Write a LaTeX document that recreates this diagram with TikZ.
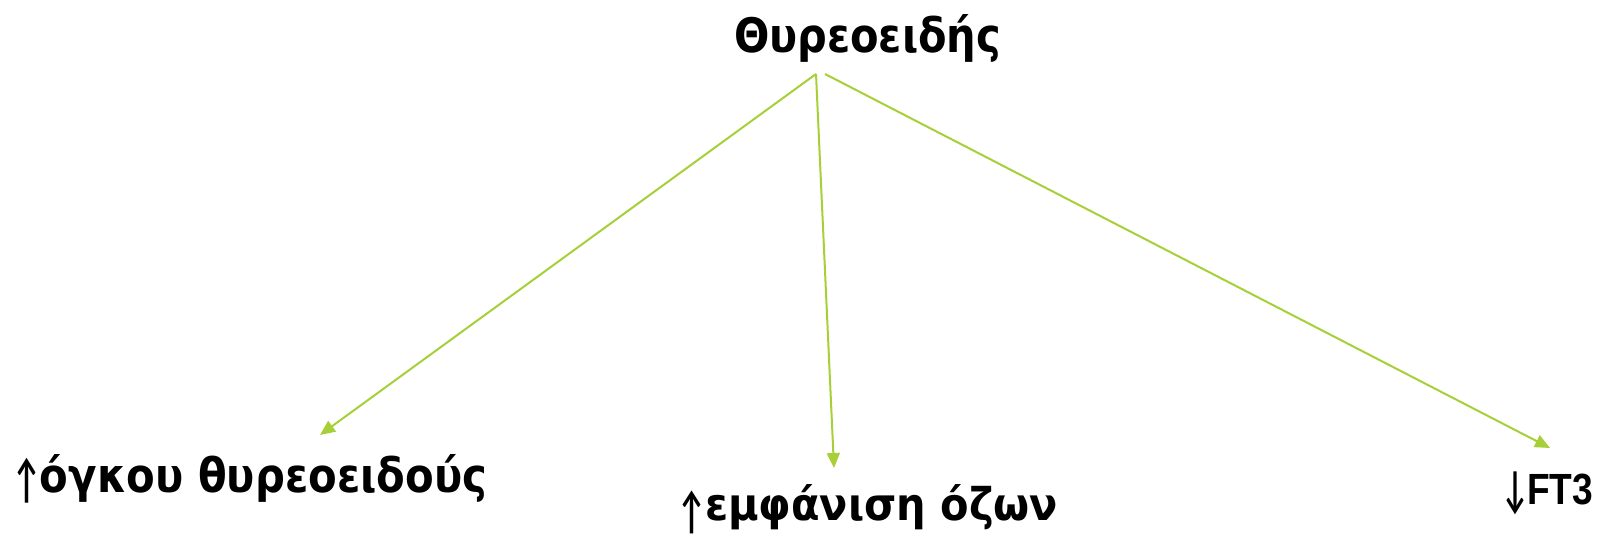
\documentclass[tikz,border=0pt]{standalone}
\usepackage{fontspec}
\setmainfont{DejaVu Sans}
\newfontfamily\grk{DejaVu Sans}
\newfontfamily\arw{Lato}
\newfontfamily\lat{Liberation Sans}
\usetikzlibrary{arrows.meta}
\definecolor{lime}{RGB}{166,207,56}
\tikzset{
  conn/.style={draw=lime, line width=2pt, -{Triangle[length=15pt,width=13pt]}},
  lbl/.style={inner sep=0pt, outer sep=0pt, anchor=base west}
}
% text of given width and height above baseline
\newcommand{\gtxt}[3]{\resizebox{#1}{#2}{\fontsize{40}{40}\selectfont\grk\bfseries #3}}
% arrow glyph: lowered by #1, total height #2
\newcommand{\uparr}[2]{\raisebox{-#1}{\resizebox{23pt}{#2}{\raisebox{\depth}{\fontsize{45}{45}\selectfont\arw\bfseries ↑}}}}
\newcommand{\dnarr}[2]{\raisebox{-#1}{\resizebox{22pt}{#2}{\raisebox{\depth}{\fontsize{45}{45}\selectfont\arw\bfseries ↓}}}}
\begin{document}
\begin{tikzpicture}[x=1pt,y=1pt]
\useasboundingbox (0,0) rectangle (1605,537);
\node[lbl] (title) at (734,484) {\gtxt{267pt}{38pt}{Θυρεοειδής}};
\node[lbl] (left) at (15,44) {\uparr{10pt}{45pt}\hspace{2pt}\gtxt{447pt}{38pt}{όγκου θυρεοειδούς}};
\node[lbl] (mid) at (680,16) {\uparr{13pt}{43pt}\hspace{2pt}\gtxt{353pt}{36pt}{εμφάνιση όζων}};
\node[lbl] (right) at (1504,32) {\dnarr{10pt}{43pt}\hspace{1pt}\resizebox{66pt}{30.5pt}{\fontsize{42}{42}\selectfont\lat\bfseries FT3}};
\coordinate (s1) at (816,463);
\coordinate (s2) at (825,463);
\coordinate (e1) at (320,102);
\coordinate (e2) at (834,69);
\coordinate (e3) at (1550,89);
\draw[conn] (s1) -- (e1);
\draw[conn] (s1) -- (e2);
\draw[conn] (s2) -- (e3);
\end{tikzpicture}
\end{document}
